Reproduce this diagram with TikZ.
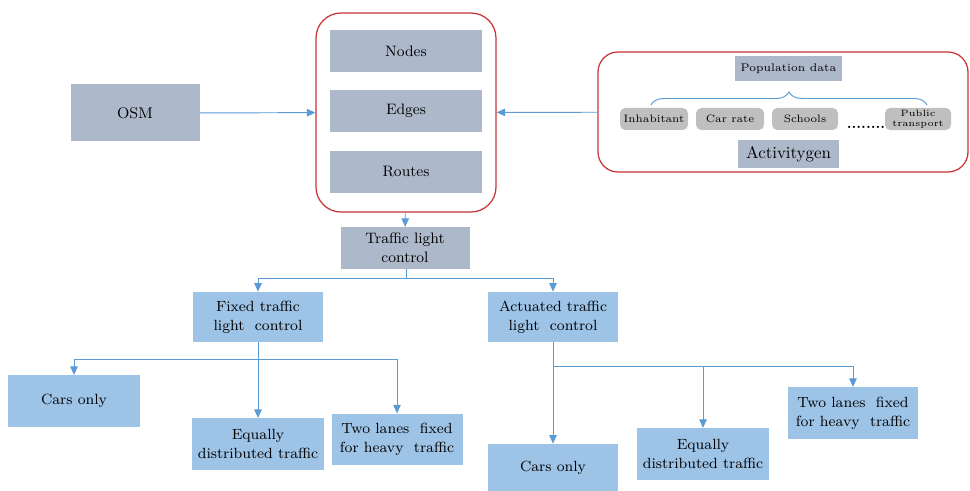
\documentclass[tikz,border=0pt]{standalone}
\usetikzlibrary{arrows.meta,positioning,calc,decorations.pathreplacing}
\definecolor{slate}{RGB}{173,185,202}
\definecolor{skyfill}{RGB}{157,195,230}
\definecolor{linkblue}{RGB}{91,155,213}
\definecolor{framered}{RGB}{200,50,50}
\definecolor{chipgray}{RGB}{191,191,191}
\tikzset{
  slatebox/.style={fill=slate, minimum width=3.04cm, minimum height=0.84cm,
                   align=center, font=\fontsize{8.6}{10.8}\selectfont},
  skybox/.style={fill=skyfill, minimum width=2.6cm, minimum height=1.03cm,
                 align=center, font=\fontsize{8.4}{10.8}\selectfont},
  chip/.style={fill=chipgray, rounded corners=3pt, minimum height=0.44cm,
               inner sep=1pt, align=center, font=\fontsize{6.1}{8}\selectfont},
  rframe/.style={draw=framered, line width=0.7pt},
  link/.style={-{Triangle[length=1.7mm,width=1.5mm]}, linkblue, line width=0.55pt},
}

\begin{document}
\begin{tikzpicture}
    \useasboundingbox (0,0) rectangle (19.4,-9.82);
    % simulation inputs
    \node[rframe, rounded corners=0.5cm, minimum width=3.6cm, minimum height=3.98cm] (sumo) at (8.12,-2.25) {};
    \node[slatebox] (nodes) at (8.12,-1.02) {Nodes};
    \node[slatebox] (edges) at (8.12,-2.22) {Edges};
    \node[slatebox] (routes) at (8.12,-3.44) {Routes};
    \node[slatebox, minimum width=2.58cm, minimum height=1.14cm, font=\fontsize{8.8}{11}\selectfont] (osm) at (2.7,-2.26) {OSM};
    % activitygen panel
    \node[rframe, rounded corners=0.4cm, minimum width=7.4cm, minimum height=2.4cm] (genframe) at (15.66,-2.24) {};
    \node[slatebox, minimum width=2.02cm, minimum height=0.5cm, font=\fontsize{6.3}{8.5}\selectfont] (pop) at (15.77,-1.38) {Population data};
    \node[chip, minimum width=1.36cm] (inhab) at (13.08,-2.38) {Inhabitant};
    \node[chip, minimum width=1.36cm] (carrate) at (14.6,-2.38) {Car rate};
    \node[chip, minimum width=1.32cm] (schools) at (16.1,-2.38) {Schools};
    \node[chip, minimum width=1.32cm, font=\fontsize{5.2}{6}\selectfont] (pubtr) at (18.36,-2.38) {Public\\transport};
    \node[font=\bfseries\fontsize{8}{9}\selectfont] (dots) at (17.32,-2.55) {........};
    \node[slatebox, minimum width=2.02cm, minimum height=0.56cm, font=\fontsize{9.6}{12}\selectfont] (agen) at (15.77,-3.08) {Activitygen};
    \draw[linkblue, line width=0.55pt, decorate, decoration={brace, amplitude=0.26cm}]
      (13.02,-2.1) -- (18.54,-2.1);
    \draw[link] (osm) -- (sumo);
    \draw[link] (genframe) -- (sumo);
    % control tree
    \node[slatebox, minimum width=2.58cm, minimum height=0.68cm] (tlc) at (8.1,-4.96) {Traffic light\\control};
    \node[skybox, minimum height=1.0cm] (fixed) at (5.16,-6.34) {Fixed traffic\\light\ \ control};
    \node[skybox, minimum height=1.0cm] (act) at (11.06,-6.34) {Actuated traffic\\light\ \ control};
    \draw[link] (sumo) -- (tlc);
    \coordinate (split) at (8.12,-5.56);
    \draw[link] (tlc.south -| split) -- (split) -| (fixed.north);
    \draw[link] (split) -| (act.north);
    % fixed branch
    \node[skybox, minimum width=2.62cm] (carsL) at (1.48,-8.02) {Cars only};
    \node[skybox, minimum width=2.62cm] (eqL) at (5.16,-8.88) {Equally\\distributed traffic};
    \node[skybox, minimum width=2.62cm] (twoL) at (7.94,-8.79) {Two lanes\ \ fixed\\for heavy\ \ traffic};
    \coordinate (fsplit) at (5.16,-7.18);
    \draw[link] (fixed.south) -- (eqL.north);
    \draw[link] (fsplit) -| (carsL.north);
    \draw[link] (fsplit) -| (twoL.north);
    % actuated branch
    \node[skybox, minimum height=0.96cm] (carsR) at (11.06,-9.36) {Cars only};
    \node[skybox] (eqR) at (14.06,-9.08) {Equally\\distributed traffic};
    \node[skybox] (twoR) at (17.06,-8.26) {Two lanes\ \ fixed\\for heavy\ \ traffic};
    \coordinate (asplit) at (11.06,-7.32);
    \draw[link] (act.south) -- (carsR.north);
    \draw[link] (asplit) -| (eqR.north);
    \draw[link] (asplit) -| (twoR.north);
\end{tikzpicture}
\end{document}
